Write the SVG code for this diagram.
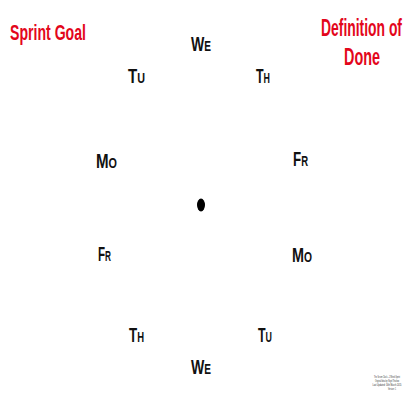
<svg xmlns="http://www.w3.org/2000/svg" width="414" height="414" viewBox="0 0 414 414">
<style>
.title{font-family:"Liberation Sans",Arial,sans-serif;font-weight:bold;fill:#e3061b;}
.day{font-family:"Liberation Sans",Arial,sans-serif;font-size:21px;font-weight:bold;fill:#111;font-variant:small-caps;}
.note{font-family:"Liberation Sans",Arial,sans-serif;font-size:3px;fill:#333;text-anchor:middle;}
</style>
<rect width="414" height="414" fill="#fff"/>
<g id="sprint-goal"><text class="title" x="10" y="40" font-size="22" textLength="76" lengthAdjust="spacingAndGlyphs">Sprint Goal</text></g>
<g id="definition-of-done">
<text class="title" x="321" y="36" font-size="24" textLength="81" lengthAdjust="spacingAndGlyphs">Definition of</text>
<text class="title" x="344" y="65" font-size="24" textLength="36" lengthAdjust="spacingAndGlyphs">Done</text>
</g>
<g id="day-we-top"><text class="day" x="191" y="51" textLength="20" lengthAdjust="spacingAndGlyphs">We</text></g>
<g id="day-tu-top"><text class="day" x="128" y="83" textLength="17" lengthAdjust="spacingAndGlyphs">Tu</text></g>
<g id="day-th-top"><text class="day" x="256" y="83" textLength="14" lengthAdjust="spacingAndGlyphs">Th</text></g>
<g id="day-mo-left"><text class="day" x="96" y="168" textLength="21" lengthAdjust="spacingAndGlyphs">Mo</text></g>
<g id="day-fr-right"><text class="day" x="293" y="166" textLength="15" lengthAdjust="spacingAndGlyphs">Fr</text></g>
<g id="center"><ellipse cx="201" cy="205" rx="4" ry="6.5" fill="#000"/></g>
<g id="day-fr-left"><text class="day" x="98" y="261" textLength="13" lengthAdjust="spacingAndGlyphs">Fr</text></g>
<g id="day-mo-right"><text class="day" x="292" y="262" textLength="20" lengthAdjust="spacingAndGlyphs">Mo</text></g>
<g id="day-th-bottom"><text class="day" x="129" y="342" textLength="15" lengthAdjust="spacingAndGlyphs">Th</text></g>
<g id="day-tu-bottom"><text class="day" x="258" y="342" textLength="14" lengthAdjust="spacingAndGlyphs">Tu</text></g>
<g id="day-we-bottom"><text class="day" x="191" y="374" textLength="20" lengthAdjust="spacingAndGlyphs">We</text></g>
<g id="connectors"></g>
<g id="note">
<text class="note" x="387" y="378" textLength="26" lengthAdjust="spacingAndGlyphs">The Scrum Clock – 2 Week Sprint</text>
<text class="note" x="387" y="382" textLength="24" lengthAdjust="spacingAndGlyphs">Original Idea by: Nigel Thurlow</text>
<text class="note" x="387" y="386" textLength="29" lengthAdjust="spacingAndGlyphs">Last Updated: 16th March 2015</text>
<text class="note" x="392" y="390" textLength="8" lengthAdjust="spacingAndGlyphs">Version: 1</text>
</g>
</svg>
